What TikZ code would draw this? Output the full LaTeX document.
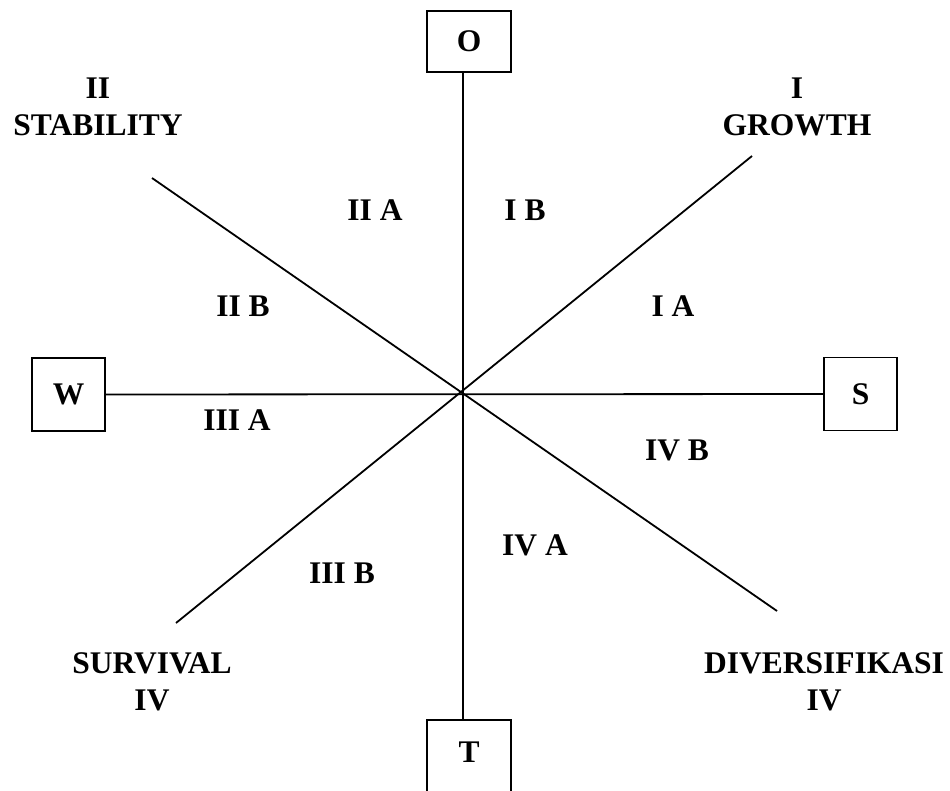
\documentclass[tikz,border=0pt]{standalone}
\usepackage{fontspec}
\setmainfont{Liberation Serif}
\usepackage{tikz}

\begin{document}
\begin{tikzpicture}[x=1pt, y=-1pt,
    box/.style={rectangle, draw, line width=1.8pt, minimum width=73pt,
                minimum height=73pt, font=\fontsize{31.5}{37.5}\selectfont\bfseries},
    lbl/.style={align=center, inner sep=0pt, font=\fontsize{31.5}{37.5}\selectfont\bfseries},
    axis/.style={line width=1.8pt}
]
\useasboundingbox (0,0) rectangle (950,791);
\clip (0,0) rectangle (950,791);
\coordinate (C) at (463,394);

% the four boxes
\node[box, minimum width=84pt, minimum height=61pt] (O) at (469,41.5) {O};
\node[box, minimum width=84pt, minimum height=80pt, text depth=16pt] (T) at (469,760) {T};
\node[box] (W) at (68.5,394.5) {W};
\node[box] (S) at (860.5,394) {S};

% ends of the diagonals
\coordinate (stabend) at (152,178);
\coordinate (growend) at (752,156);
\coordinate (survend) at (176,623);
\coordinate (diveend) at (777,611);

\draw[axis] (O.south -| C) -- (T.north -| C);
\draw[axis] (W) -- (S);
\draw[axis] (stabend) -- (diveend);
\draw[axis] (growend) -- (survend);

% strategies
\node[lbl] (stab) at (98,107)  {II\\STABILITY};
\node[lbl] (grow) at (797,107) {I\\GROWTH};
\node[lbl] (surv) at (152,682) {SURVIVAL\\IV};
\node[lbl] (dive) at (824,682) {DIVERSIFIKASI\\IV};

% sectors
\node[lbl] (iia)  at (375,210) {II A};
\node[lbl] (ib)   at (525,210) {I B};
\node[lbl] (iib)  at (243,306) {II B};
\node[lbl] (ia)   at (673,306) {I A};
\node[lbl] (iiia) at (237,420) {III A};
\node[lbl] (ivb)  at (677,450) {IV B};
\node[lbl] (iiib) at (342,573) {III B};
\node[lbl] (iva)  at (535,545) {IV A};
\end{tikzpicture}
\end{document}
